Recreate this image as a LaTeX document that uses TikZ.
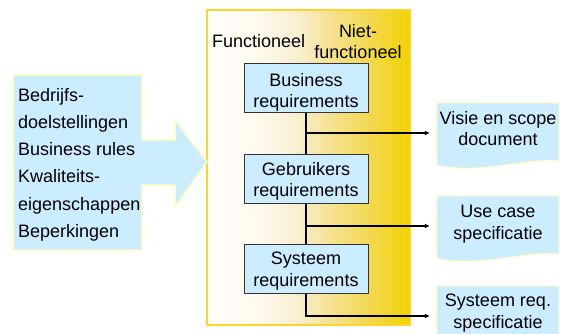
\documentclass[tikz,border=0pt]{standalone}
\usepackage{fontspec}
\setmainfont{Liberation Sans}
\usetikzlibrary{arrows.meta}
\definecolor{lblue}{HTML}{CCECFF}
\definecolor{paley}{HTML}{FFFFC0}
\definecolor{goldb}{HTML}{FFD42A}
\definecolor{boxline}{HTML}{333333}
\definecolor{g0}{HTML}{FFFEFA}
\definecolor{g1}{HTML}{FEFAEE}
\definecolor{g2}{HTML}{F8EED0}
\definecolor{g3}{HTML}{F5E294}
\definecolor{g4}{HTML}{F3D850}
\definecolor{g5}{HTML}{F2D200}
\pgfdeclarehorizontalshading{yshade}{100bp}{color(0bp)=(g0); color(25bp)=(g0); color(37.5bp)=(g1); color(47.5bp)=(g2); color(55bp)=(g3); color(65bp)=(g4); color(75bp)=(g5); color(100bp)=(g5)}
\begin{document}
\begin{tikzpicture}[x=1pt,y=-1pt,
  txt/.style={font=\fontsize{18}{21.5}\selectfont, inner sep=0, align=center},
  reqbox/.style={draw=boxline, fill=lblue, line width=1pt, minimum width=124pt, minimum height=49pt, inner sep=0},
  docbox/.style={minimum width=122pt, minimum height=60pt, inner sep=0},
  docfill/.style={fill=lblue, draw=paley, line width=1pt},
  conn/.style={line width=1.6pt, black},
  arr/.style={-{Latex[length=5pt,width=5pt]}, shorten >=7pt}]
\useasboundingbox (0,0) rectangle (570,334);
% yellow background panel
\node[draw=goldb, line width=1.5pt, shade, shading=yshade, minimum width=203pt, minimum height=315pt, inner sep=0] (yb) at (308.5,167.5) {};
% big input arrow
\path[fill=lblue, draw=paley, line width=1.5pt] (13,75) -- (142,75) -- (142,140) -- (175,140) -- (175,120) -- (207,162) -- (175,207) -- (175,185) -- (142,185) -- (142,250) -- (13,250) -- cycle;
\node[txt, align=left, anchor=north west, font=\fontsize{18}{27.2}\selectfont] (lt) at (18,88) {Bedrijfs-\\doelstellingen\\Business rules\\Kwaliteits-\\eigenschappen\\Beperkingen};
% headers
\node[txt, anchor=base west] (fn) at (212,47.5) {Functioneel};
\node[txt, anchor=north] (nf) at (358,23.8) {Niet-\\functioneel};
% requirement boxes
\node[reqbox] (br) at (306,88.5) {};
\node[reqbox] (gr) at (306,179) {};
\node[reqbox] (sr) at (306,268.5) {};
% documents
\node[docbox] (d1) at (498,133) {};
\node[docbox] (d2) at (498,226) {};
\node[docbox] (d3) at (498,316) {};
\foreach \d in {d1,d2,d3}{
  \path[docfill] (\d.north west) -- (\d.north east) -- ([yshift=2pt]\d.south east) .. controls +(-34,-4) and +(43,10) .. ([yshift=-2pt]\d.south west) -- cycle;
}
% connectors
\coordinate (j1) at (br.south |- d1.west);
\coordinate (j2) at (gr.south |- d2.west);
\draw[conn] (br.south) -- (gr.north);
\draw[conn] (gr.south) -- (sr.north);
\draw[conn, arr] (j1) -- (d1.west);
\draw[conn, arr] (j2) -- (d2.west);
\draw[conn, arr] (sr.south) |- (d3.west);
% redraw boxes over connectors
\node[reqbox] at (br) {};
\node[reqbox] at (gr) {};
\node[reqbox] at (sr) {};
% texts
\node[txt, anchor=north] (brt) at (306,73.1) {Business\\requirements};
\node[txt, anchor=north] (grt) at (306,162.1) {Gebruikers\\requirements};
\node[txt, anchor=north] (srt) at (306,252.1) {Systeem\\requirements};
\node[txt, anchor=north] (d1t) at (498,111.1) {Visie en scope\\document};
\node[txt, anchor=north] (d2t) at (498,205.1) {Use case\\specificatie};
\node[txt, anchor=north] (d3t) at (498,294.1) {Systeem req.\\specificatie};
\end{tikzpicture}
\end{document}
